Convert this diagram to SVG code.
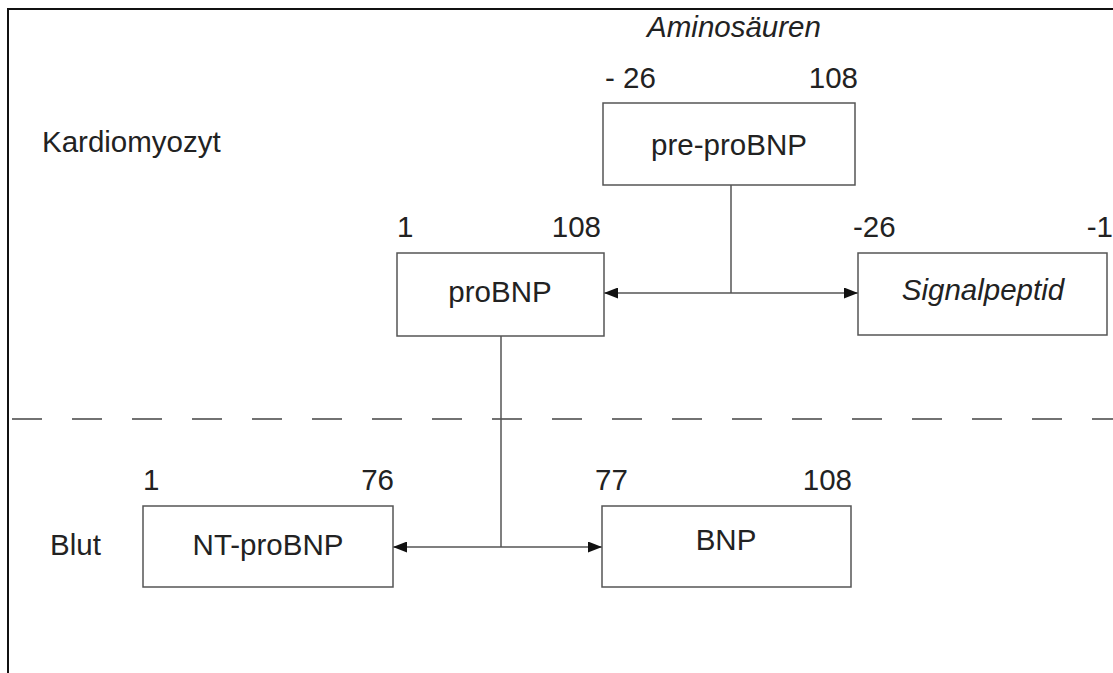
<svg xmlns="http://www.w3.org/2000/svg" width="1113" height="673" viewBox="0 0 1113 673">
<style>
text{font-family:"Liberation Sans",Arial,sans-serif;font-size:29.5px;fill:#222}
.it{font-style:italic}
.mid{text-anchor:middle}
.end{text-anchor:end}
.box{fill:#fff;stroke:#555;stroke-width:1.5}
.con{fill:none;stroke:#555;stroke-width:1.5}
</style>
<defs>
<marker id="arr" viewBox="0 0 14 11" refX="14" refY="5.5" markerWidth="14" markerHeight="11" markerUnits="userSpaceOnUse" orient="auto-start-reverse">
<path d="M0,0 L14,5.5 L0,11 Z" fill="#111"/>
</marker>
</defs>
<rect width="1113" height="673" fill="#fff"/>
<g id="frame"><path d="M8,673 V9 H1113" fill="none" stroke="#111" stroke-width="2"/></g>
<g id="separator"><line x1="12" y1="419" x2="1113" y2="419" stroke="#444" stroke-width="1.5" stroke-dasharray="30 30"/></g>
<g id="labels">
<text x="42" y="152">Kardiomyozyt</text>
<text x="50" y="555">Blut</text>
<text class="it mid" x="734" y="37">Aminosäuren</text>
</g>
<g id="connectors">
<path class="con" d="M731,185 V293"/>
<path class="con" d="M604,293 H858" marker-start="url(#arr)" marker-end="url(#arr)"/>
<path class="con" d="M501,336 V547"/>
<path class="con" d="M393,547 H602" marker-start="url(#arr)" marker-end="url(#arr)"/>
</g>
<g id="pre-proBNP">
<rect class="box" x="603" y="103" width="252" height="82"/>
<text class="mid" x="729" y="155">pre-proBNP</text>
<text x="605" y="88">- 26</text>
<text class="end" x="858" y="88">108</text>
</g>
<g id="proBNP">
<rect class="box" x="397" y="253" width="207" height="83"/>
<text class="mid" x="500" y="302">proBNP</text>
<text x="397" y="237">1</text>
<text class="end" x="601" y="237">108</text>
</g>
<g id="Signalpeptid">
<rect class="box" x="858" y="253" width="249" height="82"/>
<text class="it mid" x="983" y="300">Signalpeptid</text>
<text x="853" y="237">-26</text>
<text class="end" x="1113" y="237">-1</text>
</g>
<g id="NT-proBNP">
<rect class="box" x="143" y="506" width="250" height="81"/>
<text class="mid" x="268" y="555">NT-proBNP</text>
<text x="143" y="490">1</text>
<text class="end" x="394" y="490">76</text>
</g>
<g id="BNP">
<rect class="box" x="602" y="506" width="249" height="81"/>
<text class="mid" x="726" y="550">BNP</text>
<text x="595" y="490">77</text>
<text class="end" x="852" y="490">108</text>
</g>
</svg>
